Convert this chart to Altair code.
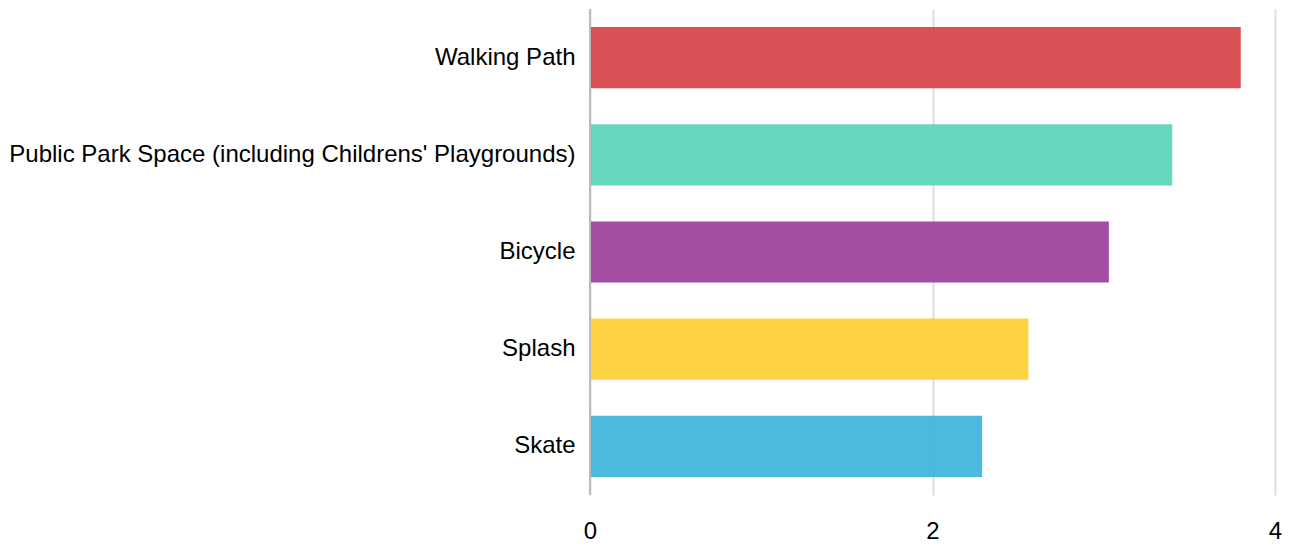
import altair as alt
import pandas as pd

categories = ["Walking Path", "Public Park Space (including Childrens' Playgrounds)", "Bicycle", "Splash", "Skate"]
values = [3.80, 3.40, 3.03, 2.56, 2.29]
colors = ["#d64245", "#5ad4b8", "#9c3f9b", "#fecf33", "#3db3dc"]

df = pd.DataFrame({"category": categories, "value": values, "color": colors})

FONT = "Liberation Sans"

bars = alt.Chart(df).mark_bar(opacity=0.92).encode(
    y=alt.Y("category:N", sort=categories,
            scale=alt.Scale(paddingInner=0.37, paddingOuter=0.185),
            axis=alt.Axis(title=None, domain=False, ticks=False, labelPadding=15,
                          labelFontSize=24, labelFont=FONT, labelColor="#000", labelLimit=0)),
    x=alt.X("value:Q", scale=alt.Scale(domain=[0, 4]),
            axis=alt.Axis(title=None, values=[0, 2, 4], format="d", domain=False, ticks=False,
                          labelFlush=False,
                          labelPadding=24, labelFontSize=24, labelFont=FONT, labelColor="#000",
                          gridColor="#dddddd", gridWidth=2, grid=True)),
    color=alt.Color("color:N", scale=None),
)

zero = alt.Chart(pd.DataFrame({"z": [0]})).mark_rule(color="#bbbbbb", strokeWidth=2).encode(x="z:Q")

chart = alt.layer(bars, zero).properties(width=685, height=486, padding=0).configure_view(stroke=None)

chart.save("out.html", embed_options={"renderer": "svg", "actions": False})
